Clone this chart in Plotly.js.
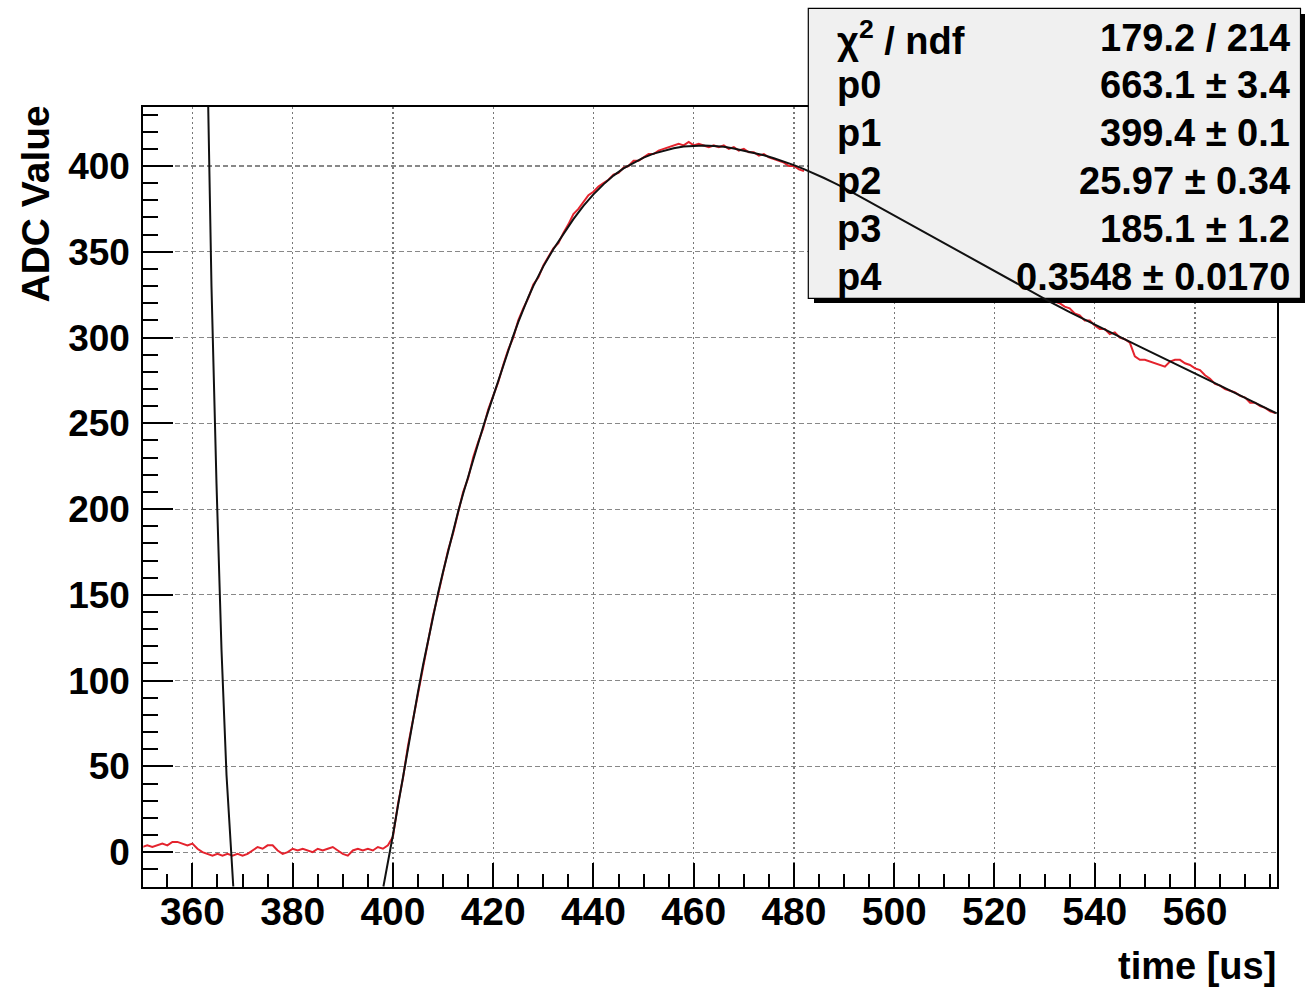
<!DOCTYPE html>
<html><head><meta charset="utf-8">
<script src="https://cdn.plot.ly/plotly-3.0.1.min.js"></script>
<style>html,body{margin:0;padding:0;background:#fff;}#chart{width:1308px;height:988px;}</style>
</head><body><div id="chart"></div>
<script>
// ---- data ----
const timeStart = 350;   // first sample time [us], one sample per us
const adcValues = [
  3,4,3,4,5,4,6,6,5,4, 5,2,0,-1,-2,-1,-2,-1,-2,-1, -2,-1,1,3,2,4,4,1,-1,0,
  2,1,2,1,0,2,1,2,3,1, -1,-2,1,2,1,2,1,3,2,4,
  9,28,43,62,77,94,108,124,138,150,164,176,186,199,210,218,230,239,247,258,266,274,284,293,300,
  310,317,323,331,335,342,347,352,355,361, 366,372,375,379,383,385,388,390,392,395,
  396,399,400,403,403,405,407,407,409,410, 411,412,413,412,414,412,413,412,411,412,
  411,412,410,411,409,410,408,408,406,407, 405,404,403,402,400,400,398,397,
  // 483..530 hidden behind the statistics box
  null,null,null,null,null,null,null,null,null,null,null,null,null,null,null,null,
  null,null,null,null,null,null,null,null,null,null,null,null,null,null,null,null,
  null,null,null,null,null,null,null,null,null,null,null,null,null,null,null,null,
  322,321,320,318,317,314,313,310,310,307, 305,305,302,303,300,299,297,289,287,287,
  286,285,284,283,286,287,287,285,284,282, 281,278,276,273,272,270,269,268,266,265,
  262,262,260,259,257,256
];
// fit function as drawn (two visible branches)
const fitTime = [
  363.15,363.8,364.8,365.8,366.8,367.8,368.15, null,
  398.1,399.4,400,401,402,403,404,405,406,407,408,409,410,411,412,413,414,415,416,417,418,419,420,
  421,422,423,424,425,426,427,428,429,430,432,434,436,438,440,442,444,446,448,450,452,454,456,458,
  460,462,464,466,468,470,472,474,476,478,480,482,484,486,488,490,494,498,502,506,510,514,518,522,
  526,531,535,540,545,550,555,560,565,570,576.3
];
const fitValue = [
  434.4,330,215,118,45,0,-20, null,
  -20,0,10,27,44,61,77.5,93.5,109,123.5,137.5,151,163.5,175.5,187,198.5,209,219,229,238.5,248,257,266,
  275,283.5,292,301,309,316.5,323.5,330,336,341.5,351.5,360.5,369,376.8,383.5,389.3,394.4,398.6,402,404.9,407.2,409,410.4,411.4,
  411.9,412,411.7,411.2,410.2,409,407.8,406.3,404.5,402.6,400.5,398.2,395.7,393,390.2,387.3,380.9,374.4,367.9,361.4,354.9,348.4,341.9,335.4,
  328.9,321,314.8,307.4,300.4,293.3,286.3,279.3,272,264.8,255.8
];
const statsLabels = ['χ<sup>2</sup> / ndf','p0','p1','p2','p3','p4'];
const statsValues = ['179.2 / 214','663.1 ± 3.4','399.4 ± 0.1','25.97 ± 0.34','185.1 ± 1.2','0.3548 ± 0.0170'];
const xTitle = 'time [us]';
const yTitle = 'ADC Value';
const xRange = [350.2, 576.3];
const yRange = [-20, 434.4];

// ---- geometry ----
const W = 1308, H = 988;
const L = 143.3, R = 1276.7, T = 107, B = 886.5;
const sx = (R - L) / (xRange[1] - xRange[0]);
const sy = (B - T) / (yRange[1] - yRange[0]);
const x2Range = [xRange[0] - L / sx, xRange[1] + (W - R) / sx];
const y2Range = [yRange[0] - (H - B) / sy, yRange[1] + T / sy];
const px2x = p => x2Range[0] + p / sx;
const py2y = p => y2Range[1] - p / sy;
const fx = p => p / W, fy = p => 1 - p / H;

const times = adcValues.map((_, i) => timeStart + i);
const FONT = 'Liberation Sans, Arial, Helvetica, sans-serif';

const traces = [
  {x: times, y: adcValues, xaxis: 'x', yaxis: 'y', type: 'scatter', mode: 'lines',
   line: {color: 'rgb(228,35,45)', width: 2}, connectgaps: false, hoverinfo: 'skip'},
  {x: fitTime, y: fitValue, xaxis: 'x2', yaxis: 'y2', type: 'scatter', mode: 'lines',
   line: {color: '#111', width: 2}, connectgaps: false, hoverinfo: 'skip'}
];

const layout = {
  width: W, height: H, margin: {l: 0, r: 0, t: 0, b: 0, pad: 0},
  paper_bgcolor: '#fff', plot_bgcolor: 'rgba(0,0,0,0)', showlegend: false,
  font: {family: FONT, color: '#000'},
  xaxis: {domain: [L / W, R / W], range: xRange, anchor: 'y',
    showline: true, mirror: true, linecolor: '#000', linewidth: 2,
    ticks: 'inside', ticklen: 24, tickwidth: 2, tickcolor: '#000', tick0: 0, dtick: 20,
    minor: {ticks: 'inside', dtick: 5, ticklen: 13, tickwidth: 2, tickcolor: '#000', showgrid: false},
    showgrid: true, gridcolor: '#777', gridwidth: 1.2, griddash: '2px,3px', zeroline: false,
    tickfont: {family: FONT, size: 39, color: '#000', weight: 'bold'}, ticklabelstandoff: -10},
  yaxis: {domain: [1 - B / H, 1 - T / H], range: yRange, anchor: 'x',
    showline: true, mirror: true, linecolor: '#000', linewidth: 2,
    ticks: 'inside', ticklen: 30, tickwidth: 2, tickcolor: '#000', tick0: 0, dtick: 50,
    minor: {ticks: 'inside', dtick: 10, ticklen: 15, tickwidth: 2, tickcolor: '#000', showgrid: false},
    showgrid: true, gridcolor: '#888', gridwidth: 1.2, griddash: '5px,3px', zeroline: false,
    tickfont: {family: FONT, size: 37, color: '#000', weight: 'bold'}, ticklabelstandoff: 4},
  xaxis2: {domain: [0, 1], range: x2Range, anchor: 'y2', visible: false, showgrid: false, zeroline: false},
  yaxis2: {domain: [0, 1], range: y2Range, anchor: 'x2', visible: false, showgrid: false, zeroline: false},
  shapes: [
    {type: 'rect', xref: 'x2', yref: 'y2', layer: 'below',
     x0: px2x(814), x1: px2x(1305), y0: py2y(303), y1: py2y(14),
     fillcolor: '#000', line: {width: 0}},
    {type: 'rect', xref: 'x2', yref: 'y2', layer: 'below',
     x0: px2x(808.3), x1: px2x(1300.5), y0: py2y(298.3), y1: py2y(8.3),
     fillcolor: 'rgb(240,240,240)', line: {color: '#000', width: 1.2}}
  ],
  annotations: []
};

statsLabels.forEach((s, i) => {
  const cy = 37.5 + i * 47.8;
  layout.annotations.push({xref: 'paper', yref: 'paper', x: fx(835), y: fy(cy),
    xanchor: 'left', yanchor: 'middle', showarrow: false, text: s,
    font: {family: FONT, size: 38, color: '#000', weight: 'bold'}});
  layout.annotations.push({xref: 'paper', yref: 'paper', x: fx(1292), y: fy(cy),
    xanchor: 'right', yanchor: 'middle', showarrow: false, text: statsValues[i],
    font: {family: FONT, size: 38, color: '#000', weight: 'bold'}});
});
layout.annotations.push({xref: 'paper', yref: 'paper', x: fx(1278), y: fy(966),
  xanchor: 'right', yanchor: 'middle', showarrow: false, text: xTitle,
  font: {family: FONT, size: 38, color: '#000', weight: 'bold'}});
layout.annotations.push({xref: 'paper', yref: 'paper', x: fx(35), y: fy(104),
  xanchor: 'center', yanchor: 'top', textangle: -90, showarrow: false, text: yTitle,
  font: {family: FONT, size: 39, color: '#000', weight: 'bold'}});

Plotly.newPlot('chart', traces, layout, {staticPlot: true, displayModeBar: false});
</script>
</body></html>
